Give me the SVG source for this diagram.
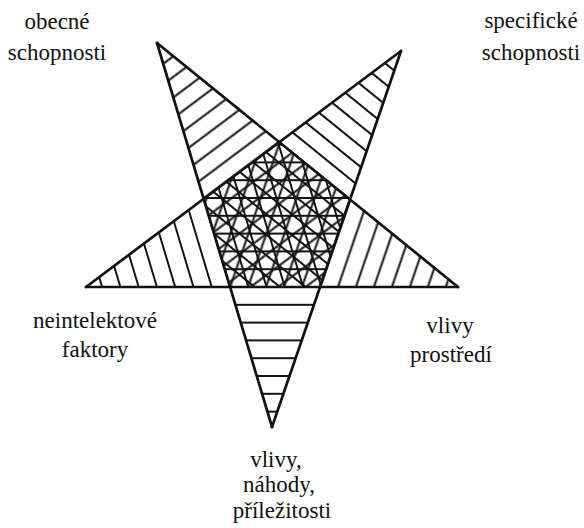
<svg xmlns="http://www.w3.org/2000/svg" width="584" height="528" viewBox="0 0 584 528">
<style>
.ol{stroke:#111;stroke-width:2.7;fill:none;stroke-linecap:round}
.h{stroke:#111;stroke-width:2}
.t text{font-size:23px;fill:#111;text-anchor:middle}
</style>
<defs>
<pattern id="pH" patternUnits="userSpaceOnUse" width="10" height="17.8" patternTransform="translate(0,287) rotate(0) translate(0,-8.9)"><line class="h" x1="-1" y1="8.9" x2="11" y2="8.9"/></pattern>
<pattern id="pTL" patternUnits="userSpaceOnUse" width="10" height="16.5" patternTransform="translate(279,142) rotate(-36.84) translate(0,-8.25)"><line class="h" x1="-1" y1="8.25" x2="11" y2="8.25"/></pattern>
<pattern id="pTR" patternUnits="userSpaceOnUse" width="10" height="16" patternTransform="translate(279,142) rotate(39.03) translate(0,-8)"><line class="h" x1="-1" y1="8" x2="11" y2="8"/></pattern>
<pattern id="pL" patternUnits="userSpaceOnUse" width="10" height="17.5" patternTransform="translate(230,287) rotate(73.33) translate(0,-8.75)"><line class="h" x1="-1" y1="8.75" x2="11" y2="8.75"/></pattern>
<pattern id="pR" patternUnits="userSpaceOnUse" width="10" height="17" patternTransform="translate(320,287) rotate(-71.07) translate(0,-8.5)"><line class="h" x1="-1" y1="8.5" x2="11" y2="8.5"/></pattern>
</defs>
<g id="arm-bottom"><polygon points="279,142 350,200 272,427 204,199" fill="url(#pH)"/></g>
<g id="arm-top-left"><polygon points="157,43 350,200 320,287 230,287" fill="url(#pTL)"/></g>
<g id="arm-top-right"><polygon points="401,51 320,287 230,287 204,199" fill="url(#pTR)"/></g>
<g id="arm-left"><polygon points="86,287 320,287 350,200 279,142" fill="url(#pL)"/></g>
<g id="arm-right"><polygon points="458,287 230,287 204,199 279,142" fill="url(#pR)"/></g>
<g id="connectors">
<line class="ol" x1="157" y1="43" x2="272" y2="427"/>
<line class="ol" x1="401" y1="51" x2="272" y2="427"/>
<line class="ol" x1="157" y1="43" x2="458" y2="287"/>
<line class="ol" x1="401" y1="51" x2="86" y2="287"/>
<line class="ol" x1="86" y1="287" x2="458" y2="287"/>
</g>
<g class="t" font-family="'Liberation Serif', 'DejaVu Serif', serif">
<g id="label-obecne"><text x="57" y="29">obecné</text><text x="57" y="60">schopnosti</text></g>
<g id="label-specificke"><text x="531" y="28">specifické</text><text x="531" y="60">schopnosti</text></g>
<g id="label-neintelektove"><text x="95" y="328">neintelektové</text><text x="95" y="357">faktory</text></g>
<g id="label-prostredi"><text x="450" y="333">vlivy</text><text x="451" y="362">prostředí</text></g>
<g id="label-nahody"><text x="276" y="467">vlivy,</text><text x="279" y="492">náhody,</text><text x="282" y="518">příležitosti</text></g>
</g>
</svg>
